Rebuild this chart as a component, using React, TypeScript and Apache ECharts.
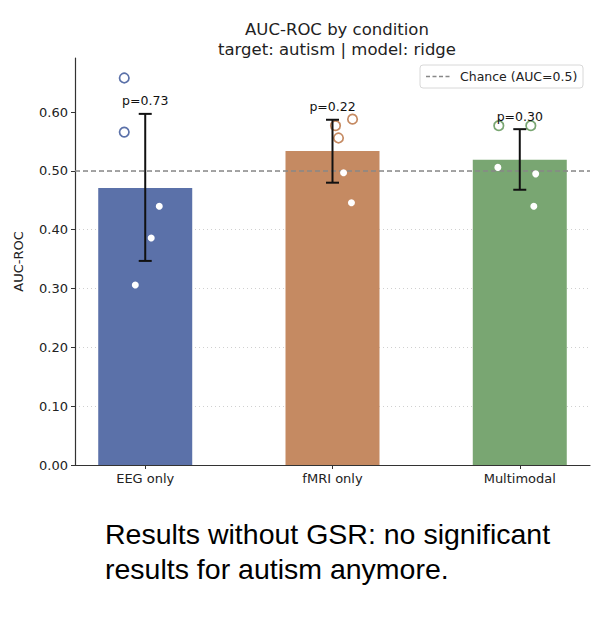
import React, { useEffect, useRef } from "react";
import * as echarts from "echarts";

const categories = ["EEG only", "fMRI only", "Multimodal"];
const barColors = ["#5b71a9", "#c58a62", "#79a672"];
const meanAuc = [0.471, 0.534, 0.519];
const errLow = [0.347, 0.48, 0.468];
const errHigh = [0.597, 0.587, 0.571];
const pLabels = ["p=0.73", "p=0.22", "p=0.30"];
// fold scores: [category index, jitter, auc]
const openPoints = [
  [0, -0.112, 0.658],
  [0, -0.112, 0.566],
  [1, 0.016, 0.577],
  [1, 0.107, 0.588],
  [1, 0.032, 0.556],
  [2, -0.112, 0.577],
  [2, 0.059, 0.577],
];
const filledPoints = [
  [0, 0.075, 0.44],
  [0, 0.032, 0.386],
  [0, -0.053, 0.306],
  [1, 0.059, 0.497],
  [1, 0.101, 0.446],
  [2, -0.117, 0.506],
  [2, 0.085, 0.495],
  [2, 0.075, 0.44],
];
const chanceLevel = 0.5;
const yTicks = [0, 0.1, 0.2, 0.3, 0.4, 0.5, 0.6];
const xMin = -0.375;
const xMax = 2.375;
const yMax = 0.692;

const FONT = "DejaVu Sans";

export default function App() {
  const ref = useRef<HTMLDivElement>(null);
  useEffect(() => {
    document.body.style.margin = "0";
    const chart = echarts.init(ref.current!, null, { renderer: "svg" });

    const scatterSeries: any[] = [];
    categories.forEach((_, ci) => {
      scatterSeries.push({
        type: "scatter",
        data: openPoints.filter((p) => p[0] === ci).map((p) => [p[0] + p[1], p[2]]),
        symbol: "circle",
        symbolSize: 9.5,
        itemStyle: { color: "#ffffff", borderColor: barColors[ci], borderWidth: 1.7, opacity: 1 },
        z: 5,
      });
      scatterSeries.push({
        type: "scatter",
        data: filledPoints.filter((p) => p[0] === ci).map((p) => [p[0] + p[1], p[2]]),
        symbol: "circle",
        symbolSize: 7,
        itemStyle: { color: "#ffffff", borderWidth: 0, opacity: 1 },
        z: 5,
      });
    });

    chart.setOption({
      animation: false,
      textStyle: { fontFamily: FONT },
      title: {
        text: "AUC-ROC by condition\ntarget: autism | model: ridge",
        left: 332,
        top: 14,
        textAlign: "center",
        textStyle: { fontFamily: FONT, fontSize: 16.5, fontWeight: "normal", color: "#222", lineHeight: 20 },
      },
      grid: { left: 75, right: 22, top: 58, bottom: 153 },
      xAxis: {
        type: "value",
        min: xMin,
        max: xMax,
        axisLine: { show: true, onZero: false, lineStyle: { color: "#333", width: 1.2 } },
        axisTick: { show: true, customValues: [0, 1, 2], length: 4, lineStyle: { color: "#333" } },
        axisLabel: {
          customValues: [0, 1, 2],
          formatter: (v: number) => categories[Math.round(v)] ?? "",
          fontFamily: FONT,
          fontSize: 13,
          color: "#222",
          margin: 7,
        },
        splitLine: { show: false },
      },
      yAxis: {
        type: "value",
        min: 0,
        max: yMax,
        interval: 0.1,
        name: "AUC-ROC",
        nameLocation: "middle",
        nameGap: 50,
        nameTextStyle: { fontFamily: FONT, fontSize: 13, color: "#222" },
        axisLine: { show: true, onZero: false, lineStyle: { color: "#333", width: 1.2 } },
        axisTick: { show: true, customValues: yTicks, length: 4, lineStyle: { color: "#333" } },
        axisLabel: {
          customValues: yTicks,
          formatter: (v: number) => v.toFixed(2),
          fontFamily: FONT,
          fontSize: 13,
          color: "#222",
          margin: 7,
        },
        splitLine: {
          show: true,
          showMinLine: false,
          showMaxLine: false,
          lineStyle: { color: "#d0d0d0", type: [1, 3], width: 1 },
        },
      },
      graphic: [
        {
          type: "rect",
          shape: { x: 420, y: 65, width: 163, height: 23, r: 3 },
          style: { fill: "rgba(255,255,255,0.85)", stroke: "#d8d8d8", lineWidth: 1 },
          z: 100,
        },
        {
          type: "line",
          shape: { x1: 426, y1: 76.5, x2: 451, y2: 76.5 },
          style: { stroke: "#888", lineWidth: 1.5, lineDash: [4, 2.5] },
          z: 101,
        },
        {
          type: "text",
          x: 460,
          y: 76.5,
          style: {
            text: "Chance (AUC=0.5)",
            fontFamily: FONT,
            fontSize: 12.5,
            fill: "#222",
            verticalAlign: "middle",
          },
          z: 101,
        },
        {
          type: "text",
          x: 105,
          y: 516,
          style: {
            text: "Results without GSR: no significant\nresults for autism anymore.",
            fontFamily: "Liberation Sans",
            fontSize: 28.5,
            lineHeight: 35,
            fill: "#000",
          },
        },
      ],
      series: [
        {
          type: "bar",
          barWidth: 94,
          data: meanAuc.map((v, i) => ({ value: [i, v], itemStyle: { color: barColors[i] } })),
          z: 2,
        },
        {
          type: "line",
          data: [
            [xMin, chanceLevel],
            [xMax, chanceLevel],
          ],
          symbol: "none",
          lineStyle: { color: "#888", width: 1.5, type: [5, 3] },
          z: 3,
        },
        {
          type: "custom",
          data: categories.map((_, i) => [i, errLow[i], errHigh[i]]),
          z: 6,
          renderItem: (params: any, api: any) => {
            const i = api.value(0);
            const lo = api.coord([i, api.value(1)]);
            const hi = api.coord([i, api.value(2)]);
            const cap = 6.5;
            const st = { stroke: "#111", lineWidth: 2 };
            return {
              type: "group",
              children: [
                { type: "line", shape: { x1: lo[0], y1: lo[1], x2: hi[0], y2: hi[1] }, style: st },
                { type: "line", shape: { x1: lo[0] - cap, y1: lo[1], x2: lo[0] + cap, y2: lo[1] }, style: st },
                { type: "line", shape: { x1: hi[0] - cap, y1: hi[1], x2: hi[0] + cap, y2: hi[1] }, style: st },
                {
                  type: "text",
                  x: hi[0],
                  y: hi[1] - 13,
                  style: {
                    text: pLabels[params.dataIndex],
                    fontFamily: FONT,
                    fontSize: 12.5,
                    fill: "#111",
                    align: "center",
                    verticalAlign: "middle",
                  },
                },
              ],
            };
          },
        },
        ...scatterSeries,
      ],
    });
    return () => chart.dispose();
  }, []);
  return <div ref={ref} style={{ width: 612, height: 618 }} />;
}
